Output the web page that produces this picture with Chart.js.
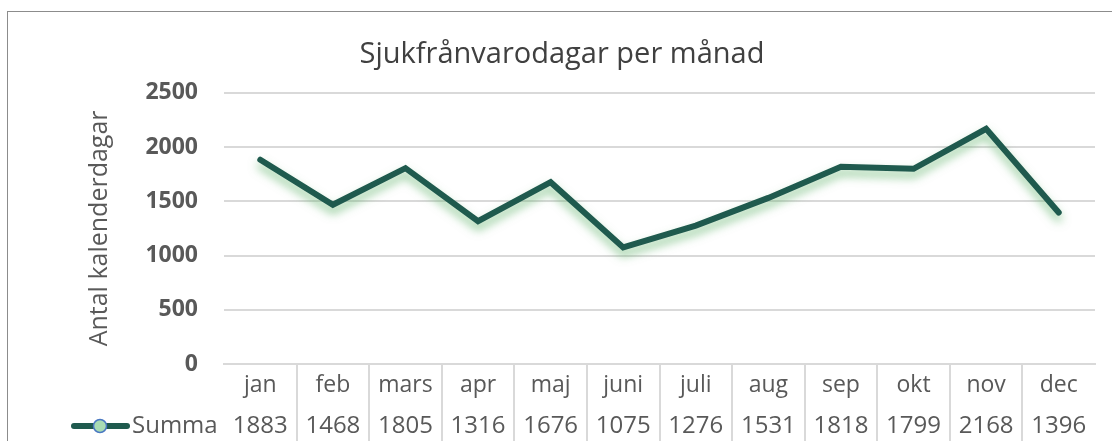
<!DOCTYPE html>
<html>
<head>
<meta charset="utf-8">
<script src="https://cdn.jsdelivr.net/npm/chart.js@4.4.0/dist/chart.umd.min.js"></script>
<style>
    html, body { margin: 0; padding: 0; background: #fff; overflow: hidden; }
    #wrap { position: relative; width: 1112px; height: 441px; }
    #frame {
        position: absolute; left: 7px; top: 11px; width: 1120px; height: 450px;
        border: 1.5px solid #8c8c8c; box-sizing: border-box; pointer-events: none;
    }
    canvas { position: absolute; left: 0; top: 0; }
</style>
</head>
<body>
<div id="wrap">
    <canvas id="chart" width="1112" height="441"></canvas>
    <div id="frame"></div>
</div>
<script>
const months = ['jan', 'feb', 'mars', 'apr', 'maj', 'juni', 'juli', 'aug', 'sep', 'okt', 'nov', 'dec'];
const summa = [1883, 1468, 1805, 1316, 1676, 1075, 1276, 1531, 1818, 1799, 2168, 1396];
const yTicks = [0, 500, 1000, 1500, 2000, 2500];

const LINE = '#1f5a4e';
const TEXT = '#595959';
const GRID = '#d9d9d9';
const FONT = '"Open Sans", "Noto Sans", sans-serif';

// soft green glow under the line, like the Excel shadow effect
const glowPlugin = {
    id: 'glow',
    beforeDatasetsDraw(chart) {
        const ctx = chart.ctx;
        ctx.save();
        ctx.shadowColor = 'rgba(100, 180, 110, 0.7)';
        ctx.shadowBlur = 10;
        ctx.shadowOffsetX = 0;
        ctx.shadowOffsetY = 6;
    },
    afterDatasetsDraw(chart) {
        chart.ctx.restore();
    }
};

// data table below the x axis: cell borders, legend key and values
const tablePlugin = {
    id: 'dataTable',
    afterDraw(chart) {
        const ctx = chart.ctx;
        const x = chart.scales.x;
        const top = chart.chartArea.bottom;
        const step = x.getPixelForValue(1) - x.getPixelForValue(0);
        const rowY = 426;

        ctx.save();
        ctx.strokeStyle = GRID;
        ctx.lineWidth = 2;
        for (let i = 1; i < months.length; i++) {
            const bx = Math.round(x.getPixelForValue(i) - step / 2);
            ctx.beginPath();
            ctx.moveTo(bx, top);
            ctx.lineTo(bx, 441);
            ctx.stroke();
        }

        ctx.fillStyle = TEXT;
        ctx.font = '24px ' + FONT;
        ctx.textAlign = 'center';
        ctx.textBaseline = 'middle';
        summa.forEach((v, i) => {
            ctx.fillText(String(v), x.getPixelForValue(i), rowY);
        });

        // legend key
        ctx.strokeStyle = LINE;
        ctx.lineWidth = 6;
        ctx.lineCap = 'round';
        ctx.beginPath();
        ctx.moveTo(74, rowY);
        ctx.lineTo(127, rowY);
        ctx.stroke();
        ctx.beginPath();
        ctx.arc(100, rowY, 6.5, 0, Math.PI * 2);
        ctx.fillStyle = '#a9dcb3';
        ctx.fill();
        ctx.lineWidth = 1.5;
        ctx.strokeStyle = '#4a78c2';
        ctx.stroke();

        ctx.fillStyle = TEXT;
        ctx.textAlign = 'left';
        ctx.fillText('Summa', 132, rowY);
        ctx.restore();
    }
};

new Chart(document.getElementById('chart').getContext('2d'), {
    type: 'line',
    data: {
        labels: months,
        datasets: [{
            label: 'Summa',
            data: summa,
            borderColor: LINE,
            borderWidth: 6,
            pointRadius: 0,
            tension: 0,
            fill: false,
            borderCapStyle: 'round',
            borderJoinStyle: 'miter'
        }]
    },
    options: {
        responsive: false,
        animation: false,
        layout: {
            padding: { left: 29, right: 17, top: 0, bottom: 0 }
        },
        plugins: {
            legend: { display: false },
            tooltip: { enabled: false },
            title: {
                display: true,
                text: 'Sjukfrånvarodagar per månad',
                color: '#404040',
                font: { family: FONT, size: 29, weight: 'normal' },
                padding: { top: 37, bottom: 21 }
            }
        },
        scales: {
            x: {
                offset: true,
                afterFit(scale) {
                    scale.height = 77;
                },
                grid: { display: false },
                border: { display: true, color: GRID, width: 2 },
                ticks: {
                    color: TEXT,
                    padding: 0,
                    maxRotation: 0,
                    font: { family: FONT, size: 23 }
                }
            },
            y: {
                min: 0,
                max: 2500,
                afterBuildTicks(scale) {
                    scale.ticks = yTicks.map(v => ({ value: v }));
                },
                afterFit(scale) {
                    scale.width = 195;
                },
                grid: { color: GRID, lineWidth: 2, drawTicks: false },
                border: { display: false },
                ticks: {
                    color: TEXT,
                    padding: 26,
                    font: { family: FONT, size: 23, weight: 'bold' },
                    callback: v => String(v)
                },
                title: {
                    display: true,
                    text: 'Antal kalenderdagar',
                    color: TEXT,
                    padding: { top: 56, bottom: 0 },
                    font: { family: FONT, size: 25, weight: 'normal' }
                }
            }
        }
    },
    plugins: [glowPlugin, tablePlugin]
});
</script>
</body>
</html>
